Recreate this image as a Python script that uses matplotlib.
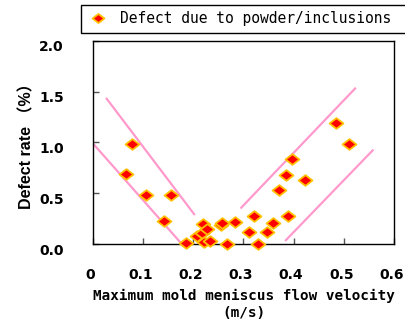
import matplotlib
matplotlib.use("Agg")
import matplotlib.pyplot as plt
from matplotlib.path import Path
from matplotlib.patches import Rectangle
from matplotlib.transforms import ScaledTranslation

# flow velocity (m/s) and defect rate (%)
velocity = [0.066, 0.078, 0.106, 0.142, 0.155, 0.186, 0.207, 0.217, 0.219,
            0.227, 0.222, 0.234, 0.255, 0.258, 0.268, 0.283, 0.311, 0.320,
            0.328, 0.346, 0.359, 0.371, 0.384, 0.389, 0.396, 0.422, 0.484,
            0.511]
defect = [0.69, 0.99, 0.48, 0.23, 0.48, 0.01, 0.08, 0.11, 0.20,
          0.15, 0.02, 0.03, 0.19, 0.21, 0.00, 0.22, 0.12, 0.28,
          0.00, 0.12, 0.21, 0.53, 0.68, 0.28, 0.84, 0.63, 1.19,
          0.99]

# pink guide lines (x pair, y pair)
guide_x = [[0.026, 0.203], [0.000, 0.177], [0.294, 0.524], [0.383, 0.559]]
guide_y = [[1.44, 0.285], [0.99, 0.00], [0.35, 1.54], [0.03, 0.93]]

x_ticks = [0, 0.1, 0.2, 0.3, 0.4, 0.5, 0.6]
x_ticklabels = ["0", "0.1", "0.2", "0.3", "0.4", "0.5", "0.6"]
y_ticks = [0.0, 0.5, 1.0, 1.5, 2.0]
y_ticklabels = ["0.0", "0.5", "1.0", "1.5", "2.0"]

legend_label = "Defect due to powder/inclusions"

# flat diamond like the spreadsheet marker
diamond = Path([(-1.3, 0), (0, 1), (1.3, 0), (0, -1), (-1.3, 0)],
               [Path.MOVETO, Path.LINETO, Path.LINETO, Path.LINETO, Path.CLOSEPOLY])

fig = plt.figure(figsize=(4.05, 3.24), dpi=100)
ax = fig.add_axes([0.2296, 0.2469, 0.9728 - 0.2296, 0.8735 - 0.2469])

for gx, gy in zip(guide_x, guide_y):
    ax.plot(gx, gy, color="#FF99CC", lw=1.6, solid_capstyle="butt", zorder=2)

pts, = ax.plot(velocity, defect, ls="none", marker=diamond, ms=10,
               mfc="#FF0000", mec="#FFC000", mew=1.3, zorder=3,
               label=legend_label, clip_on=False)

ax.set_xlim(0, 0.6)
ax.set_ylim(0, 2.0)
ax.set_xticks(x_ticks)
ax.set_xticklabels(x_ticklabels)
ax.set_yticks(y_ticks)
ax.set_yticklabels(y_ticklabels)
ax.tick_params(direction="in", length=4.5, width=1, color="#555555",
               labelsize=10)
ax.tick_params(axis="x", pad=17)
ax.tick_params(axis="y", pad=21)
for lab in ax.get_xticklabels():
    lab.set_fontweight("bold")
    lab.set_transform(lab.get_transform() + ScaledTranslation(-2.5 / 100, 0, fig.dpi_scale_trans))
for lab in ax.get_yticklabels():
    lab.set_fontweight("bold")
    lab.set_transform(lab.get_transform() + ScaledTranslation(0, -5 / 100, fig.dpi_scale_trans))
for sp in ax.spines.values():
    sp.set_linewidth(1.0)
    sp.set_color("black")

ax.set_xlabel("Maximum mold meniscus flow velocity\n(m/s)",
              family="DejaVu Sans Mono", fontweight="bold", fontsize=10.3,
              linespacing=1.3, labelpad=5)
ax.set_ylabel("Defect rate （%）", family=["Liberation Sans", "Noto Sans CJK JP"],
              fontweight="bold", fontsize=11.5, labelpad=3)

# legend box runs off the right edge like the original
fig.add_artist(Rectangle((81 / 405, 1 - 33 / 324), 340 / 405, 28 / 324,
                         transform=fig.transFigure, facecolor="white",
                         edgecolor="black", lw=1.0, zorder=-1))
leg = ax.legend(handles=[pts], loc="upper left",
                bbox_to_anchor=(86 / 405, 1 - 6 / 324), bbox_transform=fig.transFigure,
                frameon=False,
                prop={"family": "DejaVu Sans Mono", "size": 10.5},
                handlelength=1.0, handletextpad=1.0, borderpad=0.35,
                borderaxespad=0, markerscale=0.85)
leg.set_zorder(5)

fig.savefig("out.png", dpi=100)
